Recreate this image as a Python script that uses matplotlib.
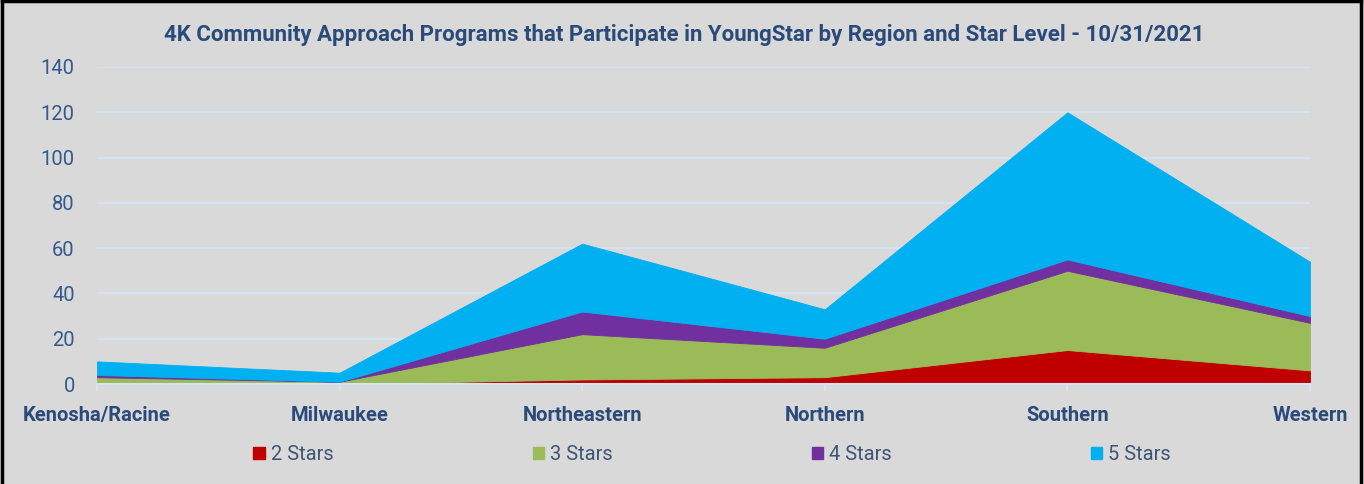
import matplotlib
matplotlib.use("Agg")
import matplotlib.pyplot as plt
from matplotlib.lines import Line2D
from matplotlib.patches import Patch
import numpy as np

regions = ["Kenosha/Racine", "Milwaukee", "Northeastern", "Northern", "Southern", "Western"]
two_stars = [0, 0, 2, 3, 15, 6]
three_stars = [3, 1, 20, 13, 35, 21]
four_stars = [1, 0, 10, 4, 5, 3]
five_stars = [6, 4, 30, 13, 65, 24]
series_names = ["2 Stars", "3 Stars", "4 Stars", "5 Stars"]
colors = ["#C00000", "#9BBB59", "#7030A0", "#00B0F0"]
yticks = [0, 20, 40, 60, 80, 100, 120, 140]
title = "4K Community Approach Programs that Participate in YoungStar by Region and Star Level - 10/31/2021"

plt.rcParams['font.family'] = ['Roboto', 'DejaVu Sans']
bg = "#D9D9D9"
navy = "#2A4A7A"
tickc = "#34598C"
legc = "#3E5573"

fig = plt.figure(figsize=(13.64, 4.84), dpi=100, facecolor=bg)
ax = fig.add_axes([97/1364, 1-384/484, (1310-97)/1364, (384-67)/484], facecolor=bg)

x = np.arange(len(regions))
polys = ax.stackplot(x, two_stars, three_stars, four_stars, five_stars,
                     colors=colors, labels=series_names, zorder=2)
for p, c in zip(polys, colors):
    p.set_edgecolor(c)
    p.set_linewidth(0.6)

ax.set_xlim(0, len(regions)-1)
ax.set_ylim(0, 140)
ax.set_yticks(yticks)
ax.yaxis.grid(True, color="#D5E3F5", linewidth=1.5, zorder=0)
ax.set_axisbelow(True)
for s in ["top", "right", "left"]:
    ax.spines[s].set_visible(False)
ax.spines["bottom"].set_color("#D5E3F5")
ax.spines["bottom"].set_linewidth(1.5)
ax.tick_params(axis="y", length=0, labelsize=14.5, labelcolor=tickc, pad=16)
ax.tick_params(axis="x", length=5, color="#D5E3F5", width=1.5, pad=10.5)
ax.set_xticks(x)
ax.set_xticklabels(regions, fontsize=14.5, fontweight="bold", color=navy)

fig.text(684/1364, 1-35/484, title, ha="center", va="center", fontsize=16,
         fontweight="bold", color=navy)

handles = [Patch(facecolor=c, edgecolor=c) for c in colors]
leg = fig.legend(handles, series_names, loc="center", bbox_to_anchor=(712/1364, 1-455/484),
                 ncol=4, frameon=False, fontsize=14.5, handlelength=0.55, handleheight=0.55,
                 handletextpad=0.3, columnspacing=9.9, borderpad=0, borderaxespad=0)
for t in leg.get_texts():
    t.set_color(legc)

# border
fig.add_artist(Line2D([0.0015, 0.0015], [0, 0.997], transform=fig.transFigure, color="black", lw=2.5))
fig.add_artist(Line2D([0.0015, 0.9975], [0.997, 0.997], transform=fig.transFigure, color="black", lw=2.5))
fig.add_artist(Line2D([0.9975, 0.9975], [0, 0.997], transform=fig.transFigure, color="black", lw=2.5))

fig.savefig("out.png", dpi=100, facecolor=bg)
